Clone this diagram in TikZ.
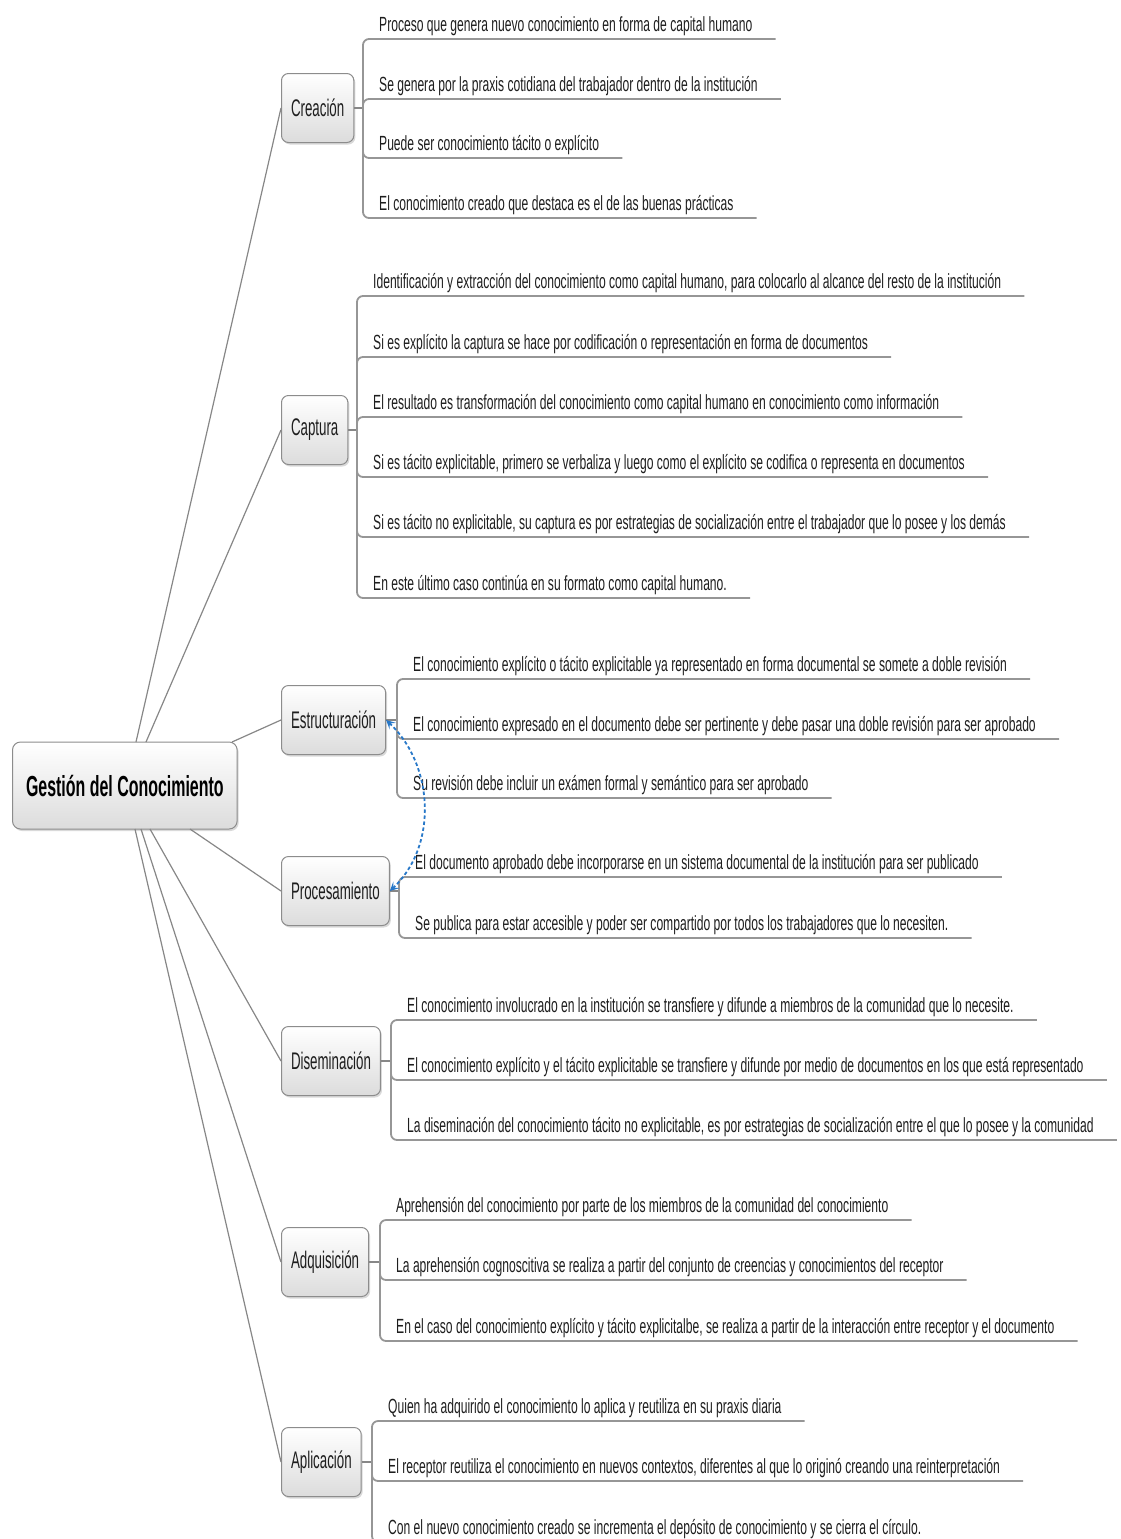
\documentclass[tikz,border=0pt]{standalone}
\usepackage{fontspec}
\setmainfont{Liberation Sans}
\newfontfamily\leaffont[FakeStretch=0.59]{Liberation Sans}
\newfontfamily\branchfont[FakeStretch=0.555]{Liberation Sans}
\newfontfamily\rootfont[FakeStretch=0.55]{Liberation Sans}
\usetikzlibrary{shadows,arrows.meta,calc}

\definecolor{lineg}{RGB}{135,135,135}
\definecolor{ulg}{RGB}{150,150,150}
\definecolor{boxborder}{RGB}{140,140,140}
\definecolor{boxbottom}{RGB}{220,220,220}
\definecolor{relblue}{RGB}{40,120,200}
\definecolor{txt}{RGB}{30,30,30}

\tikzset{
  rootbox/.style={draw=boxborder, line width=1pt, rounded corners=8pt,
    top color=white, bottom color=boxbottom,
    drop shadow={shadow xshift=1.5pt, shadow yshift=-2pt, opacity=0.3},
    minimum height=87pt, inner xsep=13.5pt,
    font=\rootfont\bfseries\fontsize{29}{32}\selectfont, text=black},
  branchbox/.style={draw=boxborder, line width=1pt, rounded corners=7pt,
    top color=white, bottom color=boxbottom,
    drop shadow={shadow xshift=1.5pt, shadow yshift=-2pt, opacity=0.3},
    minimum height=69pt, inner xsep=9.5pt, anchor=west,
    font=\branchfont\fontsize{24}{26}\selectfont, text=txt},
  leafnode/.style={anchor=south west, inner sep=0pt, text depth=7pt,
    font=\leaffont\fontsize{20.5}{22}\selectfont, text=txt,
    execute at begin node=\hspace*{16pt},
    execute at end node=\hspace*{23pt}},
  rootline/.style={draw=lineg, line width=1.2pt},
  stub/.style={draw=lineg, line width=1.3pt},
  uline/.style={draw=ulg, line width=1.8pt, rounded corners=6pt},
  reltip/.tip={Stealth[length=9pt,width=9pt,inset=4pt]},
  relarrow/.style={draw=relblue, line width=1.8pt, dash pattern=on 3.5pt off 2.5pt,
    reltip-reltip}
}

\newcommand\mmleaf[5]{%
  \node[leafnode] (#1) at (#3,#4) {#5};
  \draw[uline] (#2) |- (#1.south east);
}

\begin{document}
\begin{tikzpicture}[x=1pt,y=-1pt]
\useasboundingbox (0,0) rectangle (1120,1539);
\clip (0,0) rectangle (1120,1539);

% root
\node[rootbox, anchor=west] (root) at (12,785.5) {Gestión del Conocimiento};

% branches
\node[branchbox] (crea) at (281,108) {Creación};
\node[branchbox] (capt) at (281,430) {Captura};
\node[branchbox] (estr) at (281,720) {Estructuración};
\node[branchbox] (proc) at (281,891) {Procesamiento};
\node[branchbox] (dise) at (281,1061) {Diseminación};
\node[branchbox] (adqu) at (281,1262) {Adquisición};
\node[branchbox] (apli) at (281,1462) {Aplicación};

% root connectors
\coordinate (rtA) at (136,742);
\coordinate (rtB) at (146,742);
\coordinate (rtC) at (232,742);
\coordinate (rtD) at (190,829);
\coordinate (rtE) at (150,829);
\coordinate (rtF) at (141,829);
\coordinate (rtG) at (135,829);
\draw[rootline] (rtA) -- (crea.west);
\draw[rootline] (rtB) -- (capt.west);
\draw[rootline] (rtC) -- (estr.west);
\draw[rootline] (rtD) -- (proc.west);
\draw[rootline] (rtE) -- (dise.west);
\draw[rootline] (rtF) -- (adqu.west);
\draw[rootline] (rtG) -- (apli.west);

% junctions
\coordinate (creaJ) at (363,108);
\coordinate (captJ) at (357,430);
\coordinate (estrJ) at (397,720);
\coordinate (procJ) at (399,891);
\coordinate (diseJ) at (391,1061);
\coordinate (adquJ) at (380,1262);
\coordinate (apliJ) at (372,1462);
\draw[stub] (crea.east) -- (creaJ);
\draw[stub] (capt.east) -- (captJ);
\draw[stub] (estr.east) -- (estrJ);
\draw[stub] (proc.east) -- (procJ);
\draw[stub] (dise.east) -- (diseJ);
\draw[stub] (adqu.east) -- (adquJ);
\draw[stub] (apli.east) -- (apliJ);

% Creación
\mmleaf{c1}{creaJ}{363}{39}{Proceso que genera nuevo conocimiento en forma de capital humano}
\mmleaf{c2}{creaJ}{363}{99}{Se genera por la praxis cotidiana del trabajador dentro de la institución}
\mmleaf{c3}{creaJ}{363}{158}{Puede ser conocimiento tácito o explícito}
\mmleaf{c4}{creaJ}{363}{218}{El conocimiento creado que destaca es el de las buenas prácticas}

% Captura
\mmleaf{p1}{captJ}{357}{296}{Identificación y extracción del conocimiento como capital humano, para colocarlo al alcance del resto de la institución}
\mmleaf{p2}{captJ}{357}{357}{Si es explícito la captura se hace por codificación o representación en forma de documentos}
\mmleaf{p3}{captJ}{357}{417}{El resultado es transformación del conocimiento como capital humano en conocimiento como información}
\mmleaf{p4}{captJ}{357}{477}{Si es tácito explicitable, primero se verbaliza y luego como el explícito se codifica o representa en documentos}
\mmleaf{p5}{captJ}{357}{537}{Si es tácito no explicitable, su captura es por estrategias de socialización entre el trabajador que lo posee y los demás}
\mmleaf{p6}{captJ}{357}{598}{En este último caso continúa en su formato como capital humano.}

% Estructuración
\mmleaf{e1}{estrJ}{397}{679}{El conocimiento explícito o tácito explicitable ya representado en forma documental se somete a doble revisión}
\mmleaf{e2}{estrJ}{397}{739}{El conocimiento expresado en el documento debe ser pertinente y debe pasar una doble revisión para ser aprobado}
\mmleaf{e3}{estrJ}{397}{798}{Su revisión debe incluir un exámen formal y semántico para ser aprobado}

% Procesamiento
\mmleaf{r1}{procJ}{399}{877}{El documento aprobado debe incorporarse en un sistema documental de la institución para ser publicado}
\mmleaf{r2}{procJ}{399}{938}{Se publica para estar accesible y poder ser compartido por todos los trabajadores que lo necesiten.}

% Diseminación
\mmleaf{d1}{diseJ}{391}{1020}{El conocimiento involucrado en la institución se transfiere y difunde a miembros de la comunidad que lo necesite.}
\mmleaf{d2}{diseJ}{391}{1080}{El conocimiento explícito y el tácito explicitable se transfiere y difunde por medio de documentos en los que está representado}
\mmleaf{d3}{diseJ}{391}{1140}{La diseminación del conocimiento tácito no explicitable, es por estrategias de socialización entre el que lo posee y la comunidad}

% Adquisición
\mmleaf{a1}{adquJ}{380}{1220}{Aprehensión del conocimiento por parte de los miembros de la comunidad del conocimiento}
\mmleaf{a2}{adquJ}{380}{1280}{La aprehensión cognoscitiva se realiza a partir del conjunto de creencias y conocimientos del receptor}
\mmleaf{a3}{adquJ}{380}{1341}{En el caso del conocimiento explícito y tácito explicitalbe, se realiza a partir de la interacción entre receptor y el documento}

% Aplicación
\mmleaf{l1}{apliJ}{372}{1421}{Quien ha adquirido el conocimiento lo aplica y reutiliza en su praxis diaria}
\mmleaf{l2}{apliJ}{372}{1481}{El receptor reutiliza el conocimiento en nuevos contextos, diferentes al que lo originó creando una reinterpretación}
\mmleaf{l3}{apliJ}{372}{1542}{Con el nuevo conocimiento creado se incrementa el depósito de conocimiento y se cierra el círculo.}

% relation
\draw[relarrow] (estr.east) .. controls +(48,45) and +(48,-45) .. (proc.east);
\end{tikzpicture}
\end{document}
